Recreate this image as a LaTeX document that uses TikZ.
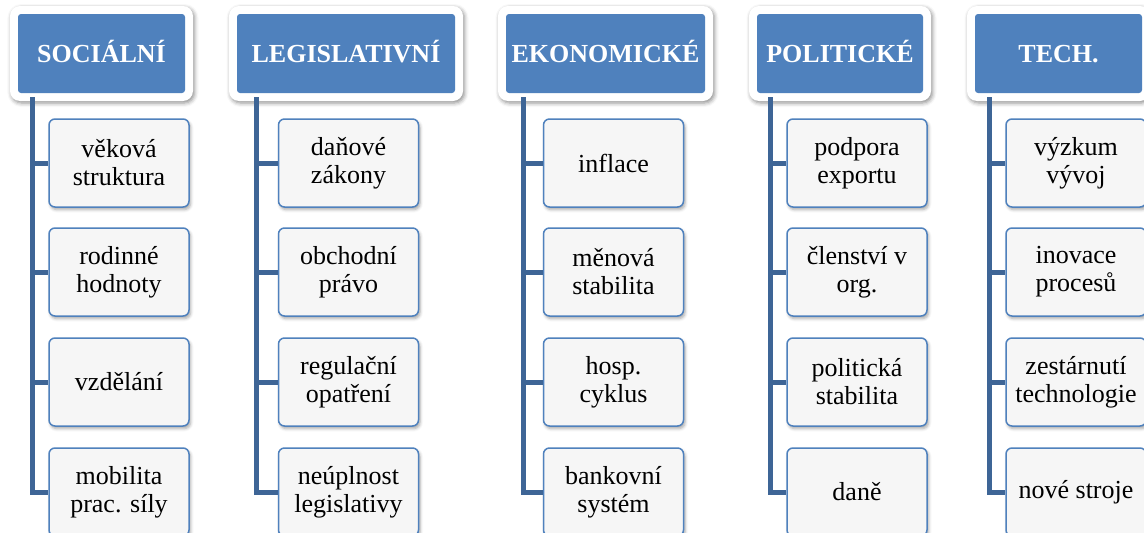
\documentclass[tikz,border=0pt]{standalone}
\usepackage{fontspec}
\setmainfont{Liberation Serif}
\usepackage{tikz}
\usetikzlibrary{
  positioning,
  shadows.blur
}
\definecolor{catblue}{RGB}{79,129,189}
\definecolor{trunkblue}{RGB}{62,101,150}
\definecolor{leafgray}{RGB}{246,246,246}

\begin{document}
\begin{tikzpicture}[x=1pt,y=-1pt,
  catframe/.style={fill=white,rounded corners=10pt,inner sep=0pt,minimum height=95pt,
                   blur shadow={shadow xshift=1.5pt,shadow yshift=-2pt,
                                shadow blur radius=4pt,shadow opacity=45}},
  cat/.style     ={fill=catblue,rounded corners=3pt,text=white,minimum height=79pt,
                   inner sep=0pt,text height=17.5pt,text depth=0pt,
                   font=\fontsize{26}{30}\selectfont\bfseries},
  leaf/.style    ={draw=catblue,line width=1.5pt,rounded corners=6pt,fill=leafgray,
                   minimum width=140pt,minimum height=88pt,inner sep=2pt,align=center,
                   font=\fontsize{26}{28}\selectfont,
                   blur shadow={shadow xshift=1.5pt,shadow yshift=-2.5pt,
                                shadow blur radius=3pt,shadow opacity=35}},
  branch/.style  ={draw=trunkblue,line width=5pt},
]
\useasboundingbox (0,0) rectangle (1144,533);

% headers
\node[catframe,minimum width=183pt] (socframe)  at (101.5,53.5)  {};
\node[catframe,minimum width=234pt] (legframe)  at (346,53.5)    {};
\node[catframe,minimum width=215pt] (ekoframe)  at (605.5,53.5)  {};
\node[catframe,minimum width=182pt] (polframe)  at (840,53.5)    {};
\node[catframe,minimum width=183pt] (techframe) at (1058.5,53.5) {};
\node[cat,minimum width=167pt] (soc)  at (socframe)  {SOCIÁLNÍ};
\node[cat,minimum width=218pt] (leg)  at (legframe)  {LEGISLATIVNÍ};
\node[cat,minimum width=199pt] (eko)  at (ekoframe)  {EKONOMICKÉ};
\node[cat,minimum width=166pt] (pol)  at (polframe)  {POLITICKÉ};
\node[cat,minimum width=167pt] (tech) at (techframe) {TECH.};

% items
\node[leaf] (soc1) at (119,163) {věková\\struktura};
\node[leaf] (soc2) at (119,272) {rodinné\\hodnoty};
\node[leaf] (soc3) at (119,382) {vzdělání};
\node[leaf] (soc4) at (119,492) {mobilita\\prac. síly};

\node[leaf] (leg1) at (348.5,163) {daňové\\zákony};
\node[leaf] (leg2) at (348.5,272) {obchodní\\právo};
\node[leaf] (leg3) at (348.5,382) {regulační\\opatření};
\node[leaf] (leg4) at (348.5,492) {neúplnost\\legislativy};

\node[leaf] (eko1) at (613.5,163) {inflace};
\node[leaf] (eko2) at (613.5,272) {měnová\\stabilita};
\node[leaf] (eko3) at (613.5,382) {hosp.\\cyklus};
\node[leaf] (eko4) at (613.5,492) {bankovní\\systém};

\node[leaf] (pol1) at (857,163) {podpora\\exportu};
\node[leaf] (pol2) at (857,272) {členství v\\org.};
\node[leaf] (pol3) at (857,382) {politická\\stabilita};
\node[leaf] (pol4) at (857,492) {daně};

\node[leaf] (tech1) at (1076,163) {výzkum\\vývoj};
\node[leaf] (tech2) at (1076,272) {inovace\\procesů};
\node[leaf] (tech3) at (1076,382) {zestárnutí\\technologie};
\node[leaf] (tech4) at (1076,492) {nové stroje};

% trunks
\coordinate (soctop)  at (32,97);
\coordinate (legtop)  at (256,97);
\coordinate (ekotop)  at (523,97);
\coordinate (poltop)  at (770,97);
\coordinate (techtop) at (989,97);
\foreach \c in {soc,leg,eko,pol,tech}
  \foreach \i in {1,...,4}
    \draw[branch] (\c top) |- (\c\i.west);
\end{tikzpicture}
\end{document}
